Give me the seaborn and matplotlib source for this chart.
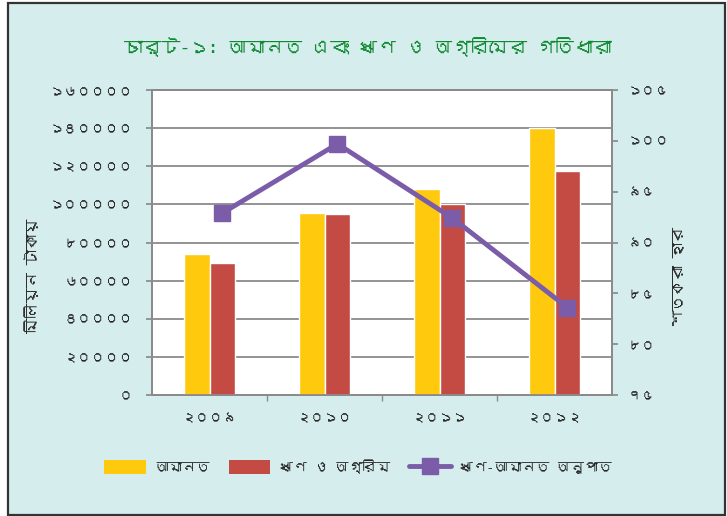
import numpy as np
import pandas as pd
import matplotlib
matplotlib.use("Agg")
import matplotlib.pyplot as plt
import seaborn as sns
from matplotlib import font_manager
from matplotlib.ft2font import FT2Font
from matplotlib.patches import Rectangle
from matplotlib.lines import Line2D
from matplotlib.ticker import FixedLocator

# ---- data -------------------------------------------------------------
years = ["২০০৯", "২০১০", "২০১১", "২০১২"]
deposits = [74000, 95400, 108000, 140300]          # আমানত (মিলিয়ন টাকা)
loans = [69300, 94800, 100100, 117700]             # ঋণ ও অগ্রিম (মিলিয়ন টাকা)
ratio = [92.9, 99.7, 92.4, 83.6]                   # ঋণ-আমানত অনুপাত (%)

left_ticks = [0, 20000, 40000, 60000, 80000, 100000, 120000, 140000, 160000]
left_labels = ["০", "২০০০০", "৪০০০০", "৬০০০০", "৮০০০০", "১০০০০০", "১২০০০০", "১৪০০০০", "১৬০০০০"]
right_ticks = [75, 80, 85, 90, 95, 100, 105]
right_labels = ["৭৫", "৮০", "৮৫", "৯০", "৯৫", "১০০", "১০৫"]

title = "চার্ট-১: আমানত এবং ঋণ ও অগ্রিমের গতিধারা"
series_names = ["আমানত", "ঋণ ও অগ্রিম", "ঋণ-আমানত অনুপাত"]
left_axis_label = "মিলিয়ন টাকায়"
right_axis_label = "শতকরা হার"


def family_with(ch):
    """First installed font family that has a glyph for ch."""
    seen = set()
    for f in font_manager.fontManager.ttflist:
        if f.fname in seen:
            continue
        seen.add(f.fname)
        try:
            if ord(ch) in FT2Font(f.fname).get_charmap():
                return f.name
        except Exception:
            pass
    return None


sns.set_theme(style="white")
bn = family_with("আ")
families = ([bn] if bn else []) + ["DejaVu Sans"]
plt.rcParams["font.family"] = families

BG = "#d6eded"
YELLOW = "#ffc90e"
RED = "#c44a44"
PURPLE = "#7b5ca8"
GRID = "#8a8a8a"

fig = plt.figure(figsize=(7.27, 5.16), dpi=100, facecolor="white")

# framed background panel
fig.patches.append(Rectangle((8 / 727, 1 / 516), 717 / 727, 512 / 516,
                             transform=fig.transFigure, facecolor=BG,
                             edgecolor="#333333", linewidth=1.6, zorder=-5))

ax = fig.add_axes([152 / 727, 1 - 395 / 516, 460 / 727, 305 / 516])
ax.set_facecolor("white")

df = pd.DataFrame({
    "year": years * 2,
    "value": deposits + loans,
    "series": [series_names[0]] * 4 + [series_names[1]] * 4,
})
sns.barplot(data=df, x="year", y="value", hue="series", order=years,
            hue_order=series_names[:2], palette=[YELLOW, RED],
            width=0.45, saturation=1, ax=ax, legend=False, zorder=3)

ax.set_xlim(-0.5, 3.5)
ax.set_ylim(0, 160000)
ax.yaxis.set_major_locator(FixedLocator(left_ticks))
ax.set_yticklabels(left_labels, fontsize=10, fontweight="bold")
ax.set_xticks(range(len(years)))
ax.set_xticklabels(years, fontsize=10, fontweight="bold")
ax.tick_params(axis="x", length=0, pad=12)
ax.tick_params(axis="y", length=4, color=GRID, pad=10, left=True)
ax.set_xticks([0.5, 1.5, 2.5], minor=True)
ax.tick_params(axis="x", which="minor", length=4, color=GRID, bottom=True)
ax.set_xlabel("")
ax.set_ylabel(left_axis_label, fontsize=11, fontweight="bold")
ax.yaxis.set_label_coords(-0.243, 0.39)
ax.grid(axis="y", color=GRID, linewidth=1.3, zorder=0)
ax.set_axisbelow(True)
for s in ax.spines.values():
    s.set_color(GRID)
    s.set_linewidth(1.3)

# ratio on the secondary axis, drawn through the loan bars
ax2 = ax.twinx()
x_line = np.arange(len(years)) + 0.1125
ax2.plot(x_line, ratio, color=PURPLE, linewidth=3.5, marker="s",
         markersize=11, markerfacecolor=PURPLE, markeredgecolor=PURPLE,
         zorder=5)
ax2.set_ylim(75, 105)
ax2.yaxis.set_major_locator(FixedLocator(right_ticks))
ax2.set_yticklabels(right_labels, fontsize=10, fontweight="bold")
ax2.tick_params(axis="y", length=4, color=GRID, pad=7, right=True)
ax2.set_ylabel(right_axis_label, fontsize=11, fontweight="bold", rotation=90)
ax2.yaxis.set_label_position("right")
ax2.yaxis.set_label_coords(1.133, 0.39)
for s in ax2.spines.values():
    s.set_color(GRID)
    s.set_linewidth(1.3)

fig.text(368 / 727, 1 - 47 / 516, title, ha="center", va="center",
         fontsize=13.5, fontweight="bold", color="#0f8a30")

handles = [
    Rectangle((0, 0), 1, 1, facecolor=YELLOW, edgecolor="none"),
    Rectangle((0, 0), 1, 1, facecolor=RED, edgecolor="none"),
    Line2D([], [], color=PURPLE, linewidth=3.5, marker="s", markersize=11),
]
fig.legend(handles, series_names, loc="center", ncol=3,
           bbox_to_anchor=(358 / 727, 1 - 467 / 516), frameon=False,
           prop={"size": 10, "weight": "bold"}, handlelength=3.0,
           handleheight=1.2, columnspacing=1.4, handletextpad=0.6)

fig.savefig("out.png", dpi=100, facecolor=fig.get_facecolor())
